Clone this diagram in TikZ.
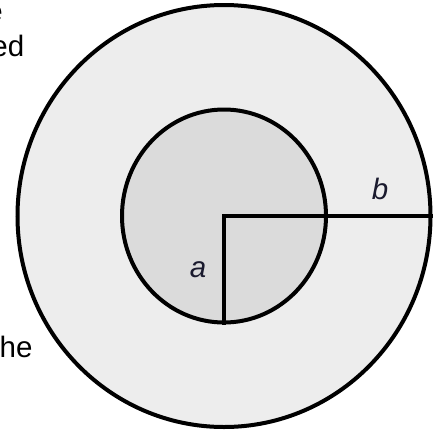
\documentclass[tikz,border=0pt]{standalone}
\usepackage{fontspec}
\setmainfont{Liberation Sans}
\setsansfont{Liberation Sans}
\definecolor{outerfill}{HTML}{EDEDED}
\definecolor{innerfill}{HTML}{DBDBDB}
\definecolor{labelcol}{HTML}{1A1A2E}
\tikzset{
  ring/.style={line width=4pt, draw=black},
  radius line/.style={line width=4pt, draw=black},
  sidetext/.style={inner sep=0pt, font=\fontsize{29.5}{33}\selectfont, text=black},
  radlabel/.style={inner sep=0pt, font=\fontsize{29.5}{33}\selectfont\itshape, text=labelcol}
}
\begin{document}
\begin{tikzpicture}[x=1pt,y=-1pt]
\useasboundingbox (0,0) rectangle (434,432);
\clip (0,0) rectangle (434,432);
\coordinate (O) at (224,216);
\coordinate (B) at (430.5,216);
\coordinate (A) at (224,322.5);
% outer disc
\draw[ring, fill=outerfill] (O) ellipse [x radius=206.5pt, y radius=211pt];
% inner disc
\draw[ring, fill=innerfill] (O) ellipse [x radius=102pt, y radius=106.5pt];
% radii
\draw[radius line, line cap=rect] (A) -- (O) -- (B);
% labels
\node[radlabel] (la) at (198,270) {a};
\node[radlabel] (lb) at (380,188.5) {b};
% cut-off side text
\node[sidetext, anchor=base east] (t1) at (3,21) {e};
\node[sidetext, anchor=base east] (t2) at (24.5,56) {ed};
\node[sidetext, anchor=base west] (t3) at (-0.5,357) {he};
\end{tikzpicture}
\end{document}
